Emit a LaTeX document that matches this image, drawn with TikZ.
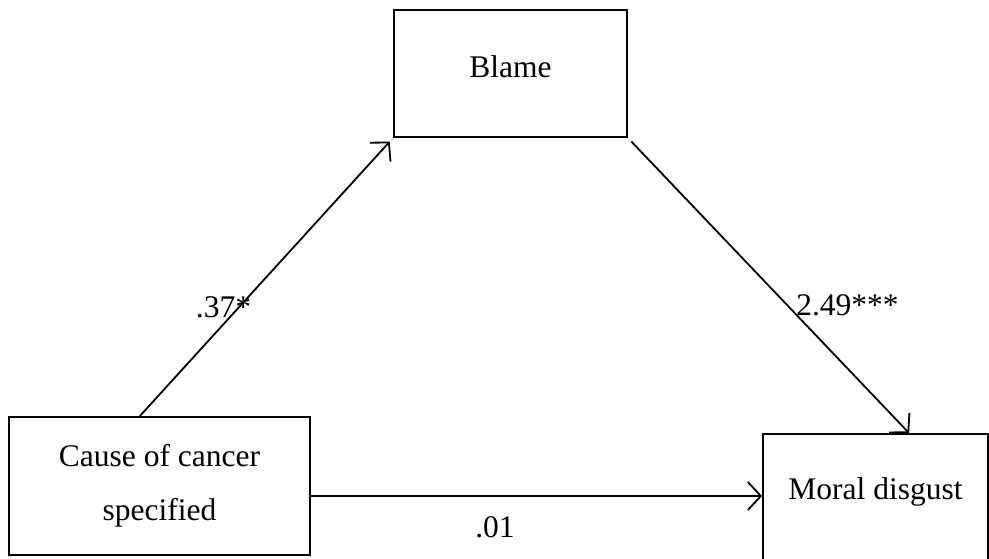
\documentclass[tikz,border=0pt]{standalone}
\usepackage{fontspec}
\setmainfont{Liberation Serif}
\usetikzlibrary{arrows.meta,calc}
\begin{document}
\begin{tikzpicture}[x=1pt,y=-1pt,
  box/.style={draw, line width=1.8pt, inner sep=0pt, font=\fontsize{31.5}{54}\selectfont, align=center},
  lbl/.style={inner sep=0pt, anchor=base, font=\fontsize{31.5}{37}\selectfont},
  conn/.style={line width=1.8pt, -{Straight Barb[length=13pt,width=28pt,line width=1.8pt]}}]
\useasboundingbox (0,0) rectangle (989,558);
\node[box, minimum width=233pt, minimum height=127pt, text height=20pt, text depth=13pt] (blame) at (510.5,73.5) {Blame};
\node[box, minimum width=301pt, minimum height=138pt] (cause) at (159.5,486) {Cause of cancer\\specified};
\node[box, minimum width=225pt, minimum height=126pt, text height=20pt, text depth=16pt] (moral) at (875.5,497) {Moral disgust};
\coordinate (h) at (0,496);
\coordinate (c1) at ($(cause.north west)!0.435!(cause.north east)$);
\coordinate (m1) at ($(moral.north west)+(147,0)$);
\draw[conn, shorten >=5pt] (c1) -- (blame.south west);
\draw[conn, shorten <=5pt] (blame.south east) -- (m1);
\draw[conn] (cause.east |- h) -- (moral.west |- h);
\node[lbl] (l1) at (223.5,317) {.37*};
\node[lbl] (l2) at (847.5,315) {2.49***};
\node[lbl] (l3) at (495,537) {.01};
\end{tikzpicture}
\end{document}
